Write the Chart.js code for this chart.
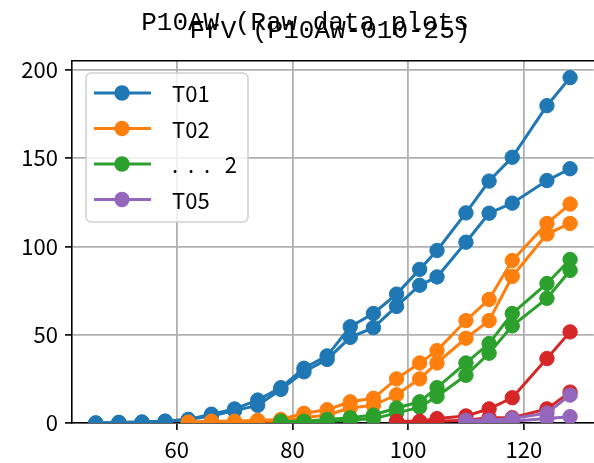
<!DOCTYPE html>
<html>
<head>
<meta charset="utf-8">
<script src="https://cdn.jsdelivr.net/npm/chart.js@4/dist/chart.umd.min.js"></script>
<style>
  body { margin: 0; overflow: hidden; background: white; }
</style>
</head>
<body>
<canvas id="graphique" width="602" height="463"></canvas>
<script>
// Les abscisses (jours) communes a toutes les courbes
const jours = [46, 50, 54, 58, 62, 66, 70, 74, 78, 82, 86, 90, 94, 98, 102, 105, 110, 114, 118, 124, 128];

const t01a = [0, 0.3, 0.5, 1, 2, 5, 8, 13, 20, 31, 38, 54.5, 62, 73, 87, 97.7, 119, 137, 150.5, 179.7, 195.6];
const t01b = [0, 0.3, 0.5, 1, 2, 4, 7, 10, 19, 29, 36, 48.5, 54, 66, 78, 82.7, 102.4, 118.8, 124.5, 137.3, 144];
const t02a = [null, null, null, null, 0.5, 1, 1, 1.5, 2, 5.5, 7.5, 12, 14, 25, 34, 41, 58, 70, 92, 113, 124];
const t02b = [null, null, null, null, 0, 0.5, 0.5, 1, 1, 3, 4.5, 8.5, 10, 16, 25, 34, 48, 58, 83, 107, 113];
const t03a = [null, null, null, null, null, null, null, null, 1, 1, 2, 3, 4.5, 8.5, 12, 20, 34, 45, 62, 79, 92.6];
const t03b = [null, null, null, null, null, null, null, null, 0, 0.5, 1, 1.5, 2.5, 5.6, 9, 15, 27, 39.5, 55, 70.6, 86.4];
const t04a = [null, null, null, null, null, null, null, null, null, null, null, null, null, 1, 1, 2.5, 4, 8, 14.3, 36.5, 51.6];
const t04b = [null, null, null, null, null, null, null, null, null, null, null, null, null, 0.5, 0.5, 1, 1.5, 3, 3, 8, 17.5];
const t05a = [null, null, null, null, null, null, null, null, null, null, null, null, null, null, null, null, 1.5, 1.5, 2.5, 5.6, 15.8];
const t05b = [null, null, null, null, null, null, null, null, null, null, null, null, null, null, null, null, 0.5, 0.5, 1, 2.5, 3.6];

// Graduations des axes
const ticksX = [60, 80, 100, 120];
const ticksY = [0, 50, 100, 150, 200];

// Legende et titres
const legendeTextes = ["T01", "T02", ".  .  .   2", "T05"];
const legendeCouleurs = ["#1f77b4", "#ff7f0e", "#2ca02c", "#9467bd"];
const titre1 = "P10AW (Raw data plots";
const titre2 = "FrV (P10AW-010-25)";

const policeTitre = "'Liberation Mono', 'DejaVu Sans Mono', monospace";
const police = "'Noto Sans CJK JP', 'Noto Sans', sans-serif";

const series = [
    { valeurs: t01a, couleur: "#1f77b4" },
    { valeurs: t01b, couleur: "#1f77b4" },
    { valeurs: t02a, couleur: "#ff7f0e" },
    { valeurs: t02b, couleur: "#ff7f0e" },
    { valeurs: t03a, couleur: "#2ca02c" },
    { valeurs: t03b, couleur: "#2ca02c" },
    { valeurs: t04a, couleur: "#d62728" },
    { valeurs: t04b, couleur: "#d62728" },
    { valeurs: t05a, couleur: "#9467bd" },
    { valeurs: t05b, couleur: "#9467bd" }
];

const datasets = [];
for (let i = 0; i < series.length; i++) {
    const points = [];
    for (let j = 0; j < jours.length; j++) {
        if (series[i].valeurs[j] !== null) {
            points.push({ x: jours[j], y: series[i].valeurs[j] });
        }
    }
    datasets.push({
        data: points,
        borderColor: series[i].couleur,
        backgroundColor: series[i].couleur,
        pointBackgroundColor: series[i].couleur,
        pointBorderColor: series[i].couleur,
        borderWidth: 3,
        pointRadius: 7.2,
        pointBorderWidth: 1,
        clip: 0,
        order: series.length - i // les dernieres courbes passent devant (comme matplotlib)
    });
}

// Plugin pour les deux titres qui se chevauchent
const pluginTitres = {
    id: "titres",
    afterDraw(chart) {
        const ctx = chart.ctx;
        ctx.save();
        ctx.fillStyle = "black";
        ctx.font = "26px " + policeTitre;
        ctx.textAlign = "center";
        ctx.textBaseline = "alphabetic";
        ctx.fillText(titre1, 305, 30);
        ctx.fillText(titre2, 330, 38);
        ctx.restore();
    }
};

// Plugin pour la legende dans le cadre (trait + rond)
const pluginLegende = {
    id: "legendeCadre",
    afterDraw(chart) {
        const ctx = chart.ctx;
        const zone = chart.chartArea;
        const x0 = zone.left + 14;
        const y0 = zone.top + 12;
        ctx.save();
        ctx.beginPath();
        ctx.roundRect(x0, y0, 162, 149, 5);
        ctx.fillStyle = "rgba(255,255,255,0.8)";
        ctx.fill();
        ctx.strokeStyle = "#d0d0d0";
        ctx.lineWidth = 1.5;
        ctx.stroke();
        ctx.font = "22px " + police;
        ctx.textBaseline = "middle";
        for (let i = 0; i < legendeTextes.length; i++) {
            const y = y0 + 20 + i * 35.5;
            ctx.strokeStyle = legendeCouleurs[i];
            ctx.fillStyle = legendeCouleurs[i];
            ctx.lineWidth = 3;
            ctx.beginPath();
            ctx.moveTo(x0 + 8, y);
            ctx.lineTo(x0 + 65, y);
            ctx.stroke();
            ctx.beginPath();
            ctx.arc(x0 + 36, y, 7.7, 0, Math.PI * 2);
            ctx.fill();
            ctx.fillStyle = "black";
            ctx.fillText(legendeTextes[i], x0 + 86, y + 1);
        }
        ctx.restore();
    }
};

const config = {
    type: "line",
    data: { datasets: datasets },
    options: {
        responsive: false,
        animation: false,
        devicePixelRatio: 1,
        layout: { padding: { top: 61, right: 3, left: 0, bottom: 0 } },
        plugins: {
            legend: { display: false },
            tooltip: { enabled: false },
            title: { display: false }
        },
        scales: {
            x: {
                type: "linear",
                min: 41.9,
                max: 132.1,
                afterBuildTicks: (scale) => { scale.ticks = ticksX.map(v => ({ value: v })); },
                afterFit: (scale) => { scale.height = 40; },
                ticks: { color: "black", font: { family: police, size: 22 }, padding: 6, maxRotation: 0 },
                grid: { color: "#b0b0b0", lineWidth: 1.8, tickLength: 7, tickColor: "black", tickWidth: 1.6 },
                border: { color: "black", width: 1.6 }
            },
            haut: {
                type: "linear",
                position: "top",
                min: 41.9,
                max: 132.1,
                afterFit: (scale) => { scale.height = 0; },
                ticks: { display: false },
                grid: { display: false },
                border: { color: "black", width: 1.6 }
            },
            y: {
                type: "linear",
                min: 0,
                max: 205,
                afterBuildTicks: (scale) => { scale.ticks = ticksY.map(v => ({ value: v })); },
                afterFit: (scale) => { scale.width = 72; },
                ticks: { color: "black", font: { family: police, size: 22 }, padding: 7 },
                grid: { color: "#b0b0b0", lineWidth: 1.8, tickLength: 7, tickColor: "black", tickWidth: 1.6 },
                border: { color: "black", width: 1.6 }
            }
        }
    },
    plugins: [pluginTitres, pluginLegende]
};

const graphique = new Chart(document.querySelector("#graphique"), config);
</script>
</body>
</html>
